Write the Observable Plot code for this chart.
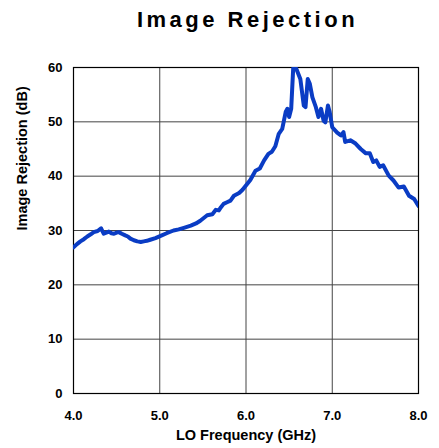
<!DOCTYPE html>
<html>
<head>
<meta charset="utf-8">
<script src="https://cdn.jsdelivr.net/npm/d3@7"></script>
<script src="https://cdn.jsdelivr.net/npm/@observablehq/plot@0.6"></script>
<style>
  html, body { margin: 0; padding: 0; background: #fff; }
  #wrap { position: relative; width: 439px; height: 448px; }
  #title { position: absolute; left: 75px; width: 345px; top: 7px; text-align: center;
    font-family: "Liberation Sans", Arial, sans-serif; font-weight: bold; font-size: 22px;
    letter-spacing: 3.5px; color: #000; }
</style>
</head>
<body>
<div id="wrap"><div id="title">Image Rejection</div></div>
<script>
const freq = [4.00,4.04,4.08,4.12,4.16,4.20,4.235,4.28,4.32,4.35,4.38,4.41,4.44,4.47,4.50,4.525,4.56,4.60,4.63,4.66,4.70,4.74,4.78,4.815,4.85,4.89,4.95,5.01,5.08,5.16,5.22,5.28,5.36,5.42,5.47,5.51,5.55,5.58,5.61,5.65,5.685,5.71,5.74,5.78,5.82,5.86,5.92,5.96,5.99,6.05,6.11,6.16,6.21,6.26,6.30,6.34,6.38,6.42,6.46,6.48,6.50,6.524,6.547,6.56,6.59,6.63,6.67,6.69,6.716,6.74,6.77,6.81,6.84,6.87,6.90,6.92,6.95,6.97,7.00,7.057,7.10,7.13,7.15,7.21,7.27,7.33,7.39,7.435,7.475,7.51,7.55,7.59,7.655,7.71,7.77,7.83,7.89,7.95,8.00];
const rejection = [26.9,27.5,28.0,28.4,28.9,29.3,29.7,29.9,30.4,29.4,29.6,29.8,29.5,29.4,29.6,29.7,29.4,29.1,28.9,28.5,28.2,28.0,27.9,28.0,28.1,28.3,28.6,29.0,29.5,30.0,30.2,30.5,30.9,31.3,31.8,32.3,32.8,32.9,33.0,33.8,33.7,34.3,34.9,35.2,35.5,36.4,36.9,37.5,38.1,39.3,41.0,41.4,42.9,44.1,44.5,45.5,47.8,48.7,51.8,52.4,50.9,52.4,59.8,60.5,59.5,57.9,53.0,52.7,57.9,57.0,54.5,52.7,50.9,52.4,50.2,49.9,53.0,51.8,49.0,48.0,47.5,48.1,46.3,46.6,46.0,45.0,44.2,44.2,42.6,42.9,41.7,42.0,40.1,39.2,37.9,38.1,36.4,35.8,34.5];
const xTicks = [4, 5, 6, 7, 8];
const yTicks = [0, 10, 20, 30, 40, 50, 60];
const xTitle = "LO Frequency (GHz)";
const yTitle = "Image Rejection (dB)";

const data = freq.map((f, i) => ({f, r: rejection[i]}));
const font = "Liberation Sans, Arial, sans-serif";

const chart = Plot.plot({
  width: 439,
  height: 448,
  marginLeft: 73,
  marginRight: 21,
  marginTop: 67,
  marginBottom: 55,
  style: {fontFamily: font, fontWeight: "bold", fontSize: "13px", color: "#000", background: "#fff"},
  x: {domain: [4, 8]},
  y: {domain: [0, 60]},
  marks: [
    Plot.gridX(xTicks, {stroke: "#444", strokeOpacity: 1}),
    Plot.gridY(yTicks, {stroke: "#444", strokeOpacity: 1}),
    Plot.frame({stroke: "#000", strokeWidth: 1.2}),
    Plot.axisX(xTicks, {tickSize: 0, tickPadding: 17, tickFormat: d3.format(".1f"), label: null, fontSize: 13, fontWeight: "bold"}),
    Plot.axisY(yTicks, {tickSize: 0, tickPadding: 11, label: null, fontSize: 13, fontWeight: "bold"}),
    Plot.line(data, {x: "f", y: "r", stroke: "#0a3cc4", strokeWidth: 4, strokeLinejoin: "round", strokeLinecap: "round", clip: true}),
    Plot.text([xTitle], {frameAnchor: "bottom", dy: 46, fontSize: 14.5, fontWeight: "bold", fill: "#000"}),
    Plot.text([yTitle], {frameAnchor: "left", dx: -51, rotate: -90, fontSize: 14.5, fontWeight: "bold", fill: "#000"})
  ]
});
document.getElementById("wrap").appendChild(chart);
</script>
</body>
</html>
